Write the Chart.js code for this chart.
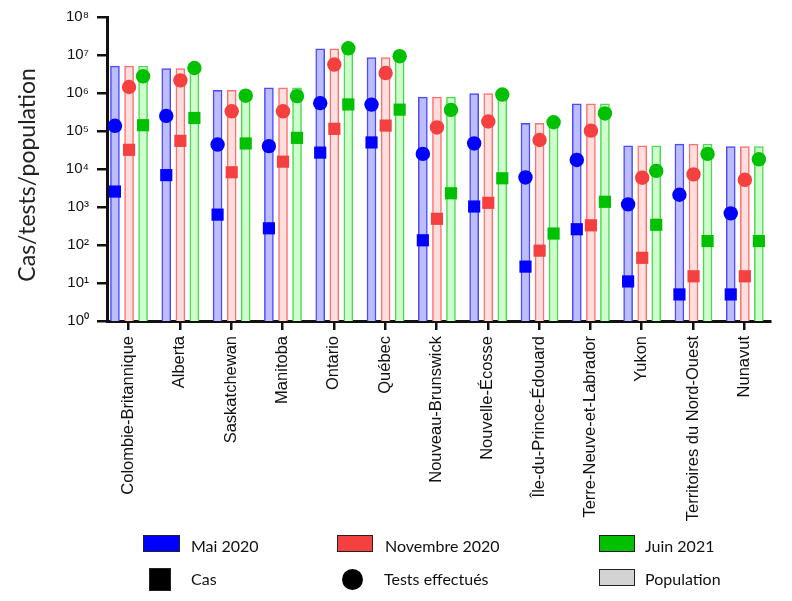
<!DOCTYPE html>
<html lang="fr">
<head>
<meta charset="utf-8">
<script src="https://cdn.jsdelivr.net/npm/chart.js@4.4.1/dist/chart.umd.min.js"></script>
<style>
  html, body { margin:0; padding:0; background:#fff; }
  #wrap { position:relative; width:792px; height:601px; }
  #chart { position:absolute; left:0; top:0; }
  .leg { position:absolute; font-family:Lato, 'Open Sans', sans-serif; font-size:16px; color:#111; line-height:18px; }
  .sw { position:absolute; box-sizing:border-box; border:1.5px solid #222; }
</style>
</head>
<body>
<div id="wrap">
  <canvas id="chart" width="792" height="601"></canvas>
  <div id="legend"></div>
</div>
<script>
// ─── data ───
const PROVINCES = ['Colombie-Britannique','Alberta','Saskatchewan','Manitoba','Ontario','Québec',
  'Nouveau-Brunswick','Nouvelle-Écosse','Île-du-Prince-Édouard','Terre-Neuve-et-Labrador',
  'Yukon','Territoires du Nord-Ouest','Nunavut'];
const PERIODS    = ['Mai 2020','Novembre 2020','Juin 2021'];
const POPULATION = [5.1e6, 4.4e6, 1.17e6, 1.37e6, 1.46e7, 8.5e6, 7.8e5, 9.7e5, 1.58e5, 5.2e5, 4.1e4, 4.5e4, 3.9e4];

const CAS_MAI    = [2550, 6900, 630, 275, 27000, 50000, 133, 1030, 27, 260, 11, 5, 5];
const CAS_NOV    = [32000, 55000, 8200, 15600, 114000, 139000, 490, 1290, 71, 330, 46, 15, 15];
const CAS_JUIN   = [142000, 220000, 47000, 66000, 500000, 365000, 2300, 5700, 200, 1370, 340, 127, 127];

const TESTS_MAI  = [137000, 250000, 44000, 40000, 540000, 495000, 25000, 47000, 6000, 17300, 1170, 2100, 680];
const TESTS_NOV  = [1440000, 2150000, 330000, 330000, 5600000, 3350000, 124000, 178000, 58000, 102000, 5900, 7200, 5200];
const TESTS_JUIN = [2750000, 4550000, 850000, 830000, 15000000, 9300000, 360000, 910000, 170000, 290000, 8900, 25000, 18000];

const Y_TICKS = [1, 1e1, 1e2, 1e3, 1e4, 1e5, 1e6, 1e7, 1e8];
const SUP = ['⁰','¹','²','³','⁴','⁵','⁶','⁷','⁸'];

// ─── styles ───
const MARK   = ['#0000ff', '#f54040', '#00c000'];
const FILL   = ['#bcbcff', '#ffdede', '#ccffcc'];
const EDGE   = ['#4a4aff', '#ff7070', '#50d850'];
const SHIFT  = [-0.265, 0.01, 0.283];   // place of each period inside a province group

const CAS   = [CAS_MAI, CAS_NOV, CAS_JUIN];
const TESTS = [TESTS_MAI, TESTS_NOV, TESTS_JUIN];

const pts = (arr, k) => arr.map((v, i) => ({ x: i + SHIFT[k], y: v }));

const datasets = [];
PERIODS.forEach((p, k) => {
  datasets.push({
    type: 'bar', label: p + ' population', data: pts(POPULATION, k),
    backgroundColor: FILL[k], borderColor: EDGE[k], borderWidth: 1.5,
    barThickness: 9, grouped: false, order: 3
  });
});
PERIODS.forEach((p, k) => {
  datasets.push({
    type: 'line', label: p + ' tests', data: pts(TESTS[k], k), showLine: false,
    pointStyle: 'circle', pointRadius: 7.2, pointHoverRadius: 7.2, borderWidth: 0,
    backgroundColor: MARK[k], borderColor: MARK[k], order: 1
  });
  datasets.push({
    type: 'line', label: p + ' cas', data: pts(CAS[k], k), showLine: false,
    pointStyle: 'rect', pointRadius: 8.6, pointHoverRadius: 8.6, borderWidth: 0,
    backgroundColor: MARK[k], borderColor: MARK[k], order: 2
  });
});

new Chart(document.getElementById('chart'), {
  type: 'bar',
  data: { datasets },
  options: {
    responsive: false,
    animation: false,
    layout: { padding: { top: 16, right: 22, left: 0, bottom: 0 } },
    plugins: { legend: { display: false }, tooltip: { enabled: false } },
    scales: {
      x: {
        type: 'linear', min: -0.42, max: 12.5, offset: false,
        afterBuildTicks: s => { s.ticks = PROVINCES.map((_, i) => ({ value: i })); },
        afterFit: s => { s.height = 280; },
        ticks: {
          autoSkip: false, minRotation: 90, maxRotation: 90, padding: 6,
          color: '#111', font: { family: "'Liberation Sans', Arial, sans-serif", size: 16.5 },
          callback: v => PROVINCES[v]
        },
        grid: { offset: false, drawOnChartArea: false, color: '#111', lineWidth: 2.5, tickLength: 9 },
        border: { color: '#111', width: 3 }
      },
      y: {
        type: 'logarithmic', min: 1, max: 1e8,
        afterBuildTicks: s => { s.ticks = Y_TICKS.map(v => ({ value: v })); },
        afterFit: s => { s.width = 107; },
        ticks: {
          padding: 8, color: '#111',
          font: { family: "'Liberation Sans Narrow', 'Liberation Sans', Arial, sans-serif", size: 15 },
          callback: v => '10' + SUP[Math.round(Math.log10(v))]
        },
        grid: { drawOnChartArea: false, color: '#111', lineWidth: 2.5, tickLength: 10 },
        border: { color: '#111', width: 3 },
        title: {
          display: true, text: 'Cas/tests/population\u00a0\u00a0', color: '#222',
          font: { family: "Lato, 'Open Sans', sans-serif", size: 23 },
          padding: { top: 14, bottom: 0 }
        }
      }
    }
  }
});

// ─── legend (3 x 2 grid) ───
const legend = document.getElementById('legend');
const item = (sx, sy, sw, sh, bg, round, tx, ty, text) => {
  legend.insertAdjacentHTML('beforeend',
    `<div class="sw" style="left:${sx}px;top:${sy}px;width:${sw}px;height:${sh}px;background:${bg};${round ? 'border-radius:50%;border:none;' : ''}"></div>
     <div class="leg" style="left:${tx}px;top:${ty}px">${text}</div>`);
};
item(143, 535, 37, 17, MARK[0], false, 191, 537, PERIODS[0]);
item(337, 535, 36, 17, MARK[1], false, 385, 537, PERIODS[1]);
item(599, 535, 36, 17, MARK[2], false, 645, 537, PERIODS[2]);
item(149, 568, 22, 23, '#000', false, 191, 570, 'Cas');
item(342, 569, 21, 21, '#000', true, 384, 570, 'Tests effectués');
item(599, 569, 36, 17, '#d3d3d3', false, 645, 570, 'Population');
</script>
</body>
</html>
